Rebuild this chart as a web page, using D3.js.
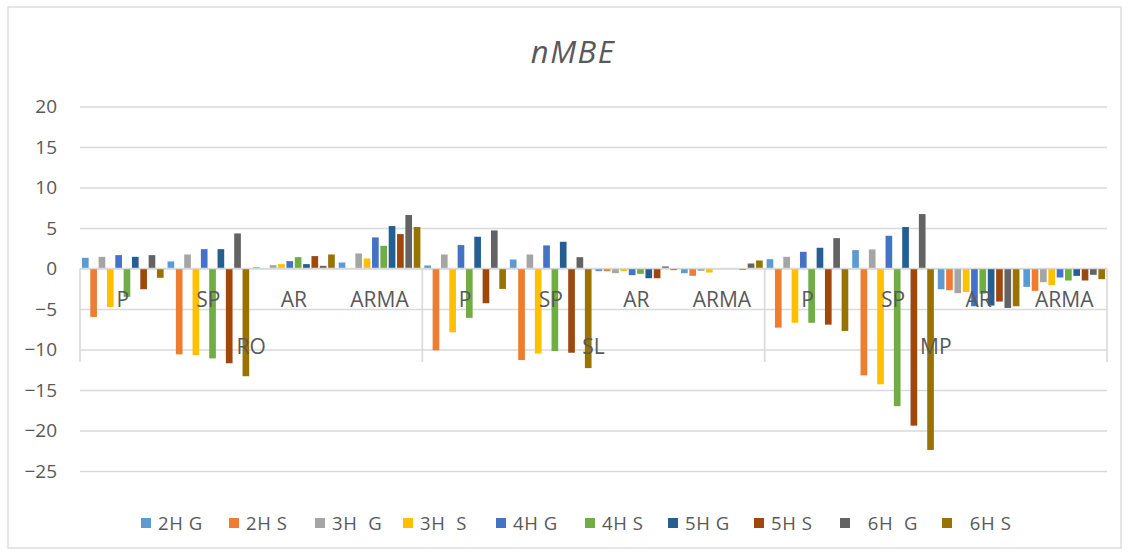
<!DOCTYPE html>
<html>
<head>
<meta charset="utf-8">
<script src="https://cdn.jsdelivr.net/npm/d3@7"></script>
<style>
  html, body { margin: 0; padding: 0; background: #fff; }
  svg { display: block; font-family: "Open Sans", "Liberation Sans", sans-serif; }
  .leg text { white-space: pre; }
</style>
</head>
<body>
<svg id="chart" width="1130" height="555"></svg>
<script>
// Station groups and forecasting methods (two-level category axis)
const groups = ["RO", "SL", "MP"];
const methods = ["P", "SP", "AR", "ARMA"];

// Series names as shown in the legend
const seriesNames = ["2H G", "2H S", "3H  G", "3H  S", "4H G", "4H S", "5H G", "5H S", "  6H  G", "  6H S"];
const seriesColors = ["#5B9BD5", "#ED7D31", "#A5A5A5", "#FFC000", "#4472C4", "#70AD47", "#255E91", "#9E480E", "#636363", "#997300"];

// nMBE values, order: RO(P,SP,AR,ARMA), SL(P,SP,AR,ARMA), MP(P,SP,AR,ARMA)
const s2HG = [1.32, 0.87, 0.16, 0.74,   0.37, 1.11, -0.33, -0.58,   1.15, 2.27, -2.56, -2.27];
const s2HS = [-5.98, -10.6, 0.05, 0.02, -10.1, -11.3, -0.33, -0.9,  -7.3, -13.2, -2.68, -2.76];
const s3HG = [1.44, 1.73, 0.41, 1.86,   1.73, 1.73, -0.58, -0.29,   1.44, 2.35, -3.05, -1.69];
const s3HS = [-4.75, -10.7, 0.54, 1.24, -7.88, -10.5, -0.33, -0.5,  -6.7, -14.3, -2.89, -2.06];
const s4HG = [1.65, 2.39, 0.91, 3.84,   2.89, 2.85, -0.82, 0.02,    2.06, 4.04, -4.66, -1.11];
const s4HS = [-3.5, -11.1, 1.4, 2.8,    -6.1, -10.2, -0.66, -0.02,  -6.7, -17.0, -3.1, -1.48];
const s5HG = [1.44, 2.39, 0.54, 5.24,   3.92, 3.3, -1.2, -0.05,     2.56, 5.12, -4.58, -0.91];
const s5HS = [-2.56, -11.7, 1.53, 4.25, -4.29, -10.4, -1.2, -0.15,  -6.93, -19.4, -4.08, -1.48];
const s6HG = [1.65, 4.33, 0.33, 6.6,    4.7, 1.4, 0.25, 0.62,       3.75, 6.72, -4.87, -0.78];
const s6HS = [-1.15, -13.3, 1.73, 5.12, -2.52, -12.3, -0.2, 0.99,   -7.71, -22.4, -4.66, -1.32];

const seriesValues = [s2HG, s2HS, s3HG, s3HS, s4HG, s4HS, s5HG, s5HS, s6HG, s6HS];
const yTicks = [20, 15, 10, 5, 0, -5, -10, -15, -20, -25];

// ---- layout ----
const svg = d3.select("#chart");
const plotL = 80, plotR = 1107;
const textColor = "#595959";
const gridColor = "#d9d9d9";

// chart frame
svg.append("rect")
  .attr("x", 8).attr("y", 7).attr("width", 1113).attr("height", 541)
  .attr("fill", "#fff").attr("stroke", gridColor).attr("stroke-width", 1.3);

// title
svg.append("text")
  .attr("x", 573).attr("y", 63)
  .attr("text-anchor", "middle")
  .attr("font-size", 31).attr("font-style", "italic")
  .attr("letter-spacing", 1.5)
  .attr("fill", textColor)
  .text("nMBE");

// flat category list (group × method)
const cats = [];
groups.forEach(g => methods.forEach(m => cats.push(g + "|" + m)));

const x = d3.scaleBand().domain(cats).range([plotL, plotR]).paddingInner(0).paddingOuter(0);
const xs = d3.scaleBand().domain(d3.range(seriesNames.length))
  .range([0, x.bandwidth()]).paddingInner(0.2).paddingOuter(0.235);
const xg = d3.scaleBand().domain(groups).range([plotL, plotR]);
const y = d3.scaleLinear().domain([-25, 20]).range([471, 106.5]);

// gridlines + value labels
const yAxis = d3.axisLeft(y).tickValues(yTicks).tickSize(-(plotR - plotL)).tickPadding(23)
  .tickFormat(d3.format("d"));
const ga = svg.append("g").attr("transform", `translate(${plotL},0)`).call(yAxis);
ga.select(".domain").remove();
ga.selectAll(".tick line").attr("stroke", gridColor).attr("stroke-width", 1.3);
ga.selectAll(".tick text").attr("fill", textColor).attr("font-size", 19)
  .attr("font-family", "'Open Sans', sans-serif");

// bars
const barData = [];
seriesValues.forEach((vals, si) => vals.forEach((v, ci) => barData.push({ si, cat: cats[ci], v })));
svg.append("g").selectAll("rect").data(barData).join("rect")
  .attr("x", d => x(d.cat) + xs(d.si))
  .attr("width", xs.bandwidth())
  .attr("y", d => Math.min(y(0), y(d.v)))
  .attr("height", d => Math.abs(y(d.v) - y(0)))
  .attr("fill", d => seriesColors[d.si]);

// category axis line at zero
svg.append("line")
  .attr("x1", plotL).attr("x2", plotR).attr("y1", y(0)).attr("y2", y(0))
  .attr("stroke", gridColor).attr("stroke-width", 1.5);

// group separators on the category axis
const sepX = groups.map(g => xg(g)).concat([plotR]);
svg.append("g").selectAll("line").data(sepX).join("line")
  .attr("x1", d => d).attr("x2", d => d)
  .attr("y1", y(0)).attr("y2", 362)
  .attr("stroke", gridColor).attr("stroke-width", 1.6);

// method labels
svg.append("g").selectAll("text").data(cats).join("text")
  .attr("x", d => x(d) + x.bandwidth() / 2)
  .attr("y", 307)
  .attr("text-anchor", "middle")
  .attr("font-size", 21)
  .attr("fill", textColor)
  .text(d => d.split("|")[1]);

// group labels
svg.append("g").selectAll("text").data(groups).join("text")
  .attr("x", d => xg(d) + xg.bandwidth() / 2)
  .attr("y", 354)
  .attr("text-anchor", "middle")
  .attr("font-size", 21)
  .attr("fill", textColor)
  .text(d => d);

// legend (single row below the plot)
const legendX = [141, 229, 315, 403, 496, 585, 668, 754, 840, 942];
const leg = svg.append("g").attr("class", "leg");
const items = leg.selectAll("g").data(seriesNames).join("g")
  .attr("transform", (d, i) => `translate(${legendX[i]},518)`);
items.append("rect")
  .attr("width", 10).attr("height", 10)
  .attr("fill", (d, i) => seriesColors[i]);
items.append("text")
  .attr("x", 17).attr("y", 12)
  .attr("font-size", 18.5)
  .attr("letter-spacing", 0.6)
  .attr("fill", textColor)
  .text(d => d);
</script>
</body>
</html>
